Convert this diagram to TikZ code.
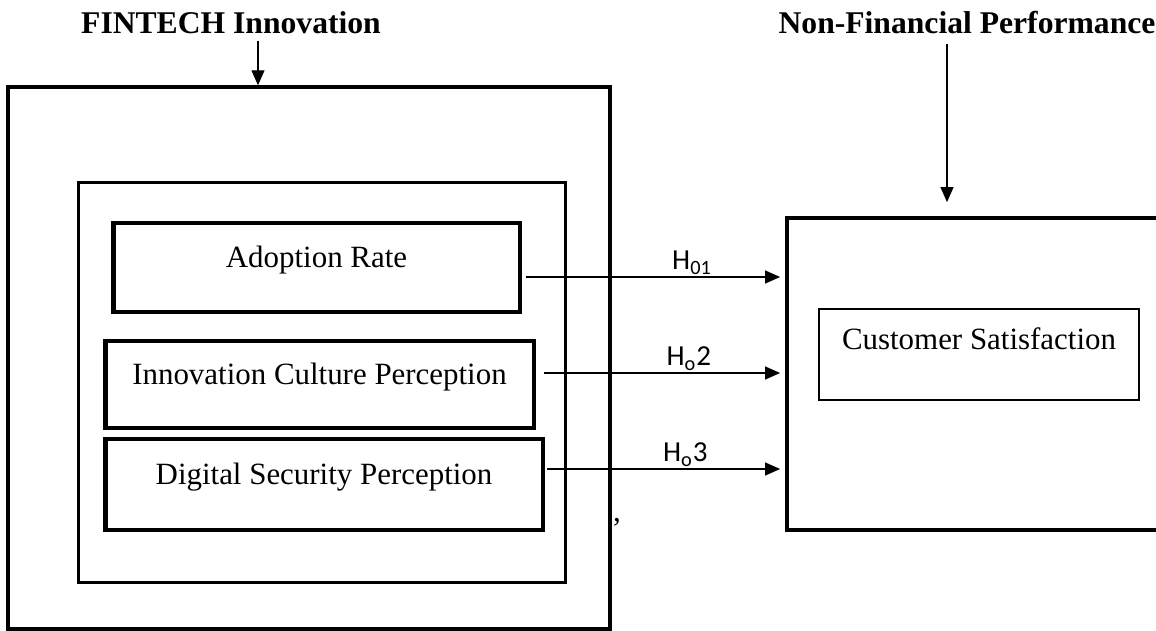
\documentclass[tikz,border=0pt]{standalone}
\usepackage{fontspec}
\setmainfont{Liberation Serif}
\newfontfamily\hypfont{Carlito}
\usetikzlibrary{arrows.meta,calc}

\tikzset{
  frame/.style={draw, line width=2pt, inner sep=0pt},
  varbox/.style={draw, line width=2.8pt, inner sep=0pt, text height=0.4cm, text depth=0.4cm,
    font=\fontsize{17.6}{20}\selectfont},
  title/.style={font=\fontsize{18}{21}\selectfont\bfseries, inner sep=0pt},
  arr/.style={-{Triangle[length=0.3cm,width=0.26cm]}, line width=0.7pt},
  hyp/.style={font=\hypfont\fontsize{16.5}{19}\selectfont, above, inner sep=1pt},
}

\begin{document}
\begin{tikzpicture}[x=0.02cm,y=-0.02cm]
    \useasboundingbox (0,0) rectangle (1156,631);
    % titles
    \node[title] (fin) at (231,23) {FINTECH Innovation};
    \node[title] (nfp) at (967,23) {Non-Financial Performance};
    % fintech block
    \node[frame, minimum width=12.04cm, minimum height=10.84cm] (outer) at (309,358) {};
    \node[frame, line width=1.7pt, minimum width=9.76cm, minimum height=8.02cm] (inner) at (322,382.5) {};
    \node[varbox, minimum width=8.14cm, minimum height=1.78cm] (adopt) at (316.5,267.5) {Adoption Rate};
    \node[varbox, minimum width=8.58cm, minimum height=1.74cm] (innov) at (319.5,384.5) {Innovation Culture Perception};
    \node[varbox, minimum width=8.76cm, minimum height=1.82cm] (digit) at (324,484.5) {Digital Security Perception};
    \node[font=\fontsize{17.6}{20}\selectfont, inner sep=0pt, anchor=base] (comma) at (617,521) {,};
    % performance block
    \node[frame, line width=2.2pt, minimum width=7.66cm, minimum height=6.24cm] (perf) at (978.5,374) {};
    \node[varbox, line width=0.85pt, text depth=0.62cm, minimum width=6.4cm, minimum height=1.82cm] (cs) at (979,354.5) {Customer Satisfaction};
    % arrows
    \coordinate (fa) at ($(fin.south)+(27,7)$);
    \coordinate (na) at ($(nfp.south)+(-20,9)$);
    \draw[arr] (fa) -- (fa |- outer.north);
    \draw[arr, shorten >=0.28cm] (na) -- (na |- perf.north);
    \coordinate (h1) at ($(adopt.east)+(4,9.5)$);
    \coordinate (h2) at ($(innov.east)+(8,-11.5)$);
    \coordinate (h3) at ($(digit.east)+(2,-15.5)$);
    \draw[arr, shorten >=0.1cm] (h1) -- (h1 -| perf.west) node[hyp, pos=0.64] {H\textsubscript{01}};
    \draw[arr, shorten >=0.1cm] (h2) -- (h2 -| perf.west) node[hyp, pos=0.6] {H\textsubscript{o}2};
    \draw[arr, shorten >=0.1cm] (h3) -- (h3 -| perf.west) node[hyp, pos=0.58] {H\textsubscript{o}3};
\end{tikzpicture}
\end{document}
